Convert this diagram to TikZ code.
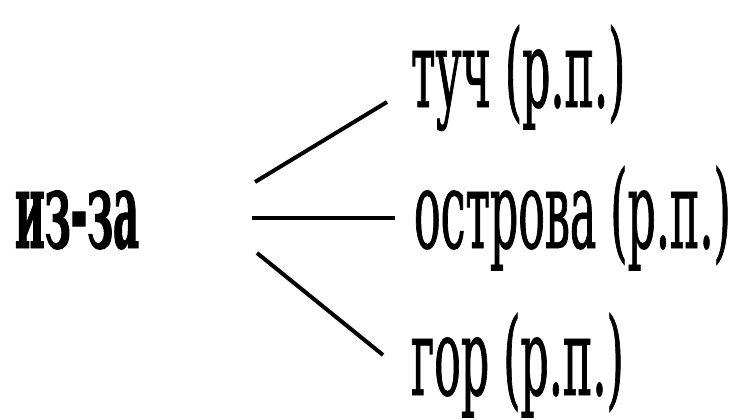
\documentclass[tikz,border=0pt]{standalone}
\usepackage{fontspec}
\setmainfont{DejaVu Serif}
\newfontfamily\narrowserif[FakeStretch=0.41,FakeBold=0.6]{DejaVu Serif}
\newfontfamily\narrowbold[FakeStretch=0.373,BoldFeatures={FakeBold=0.8}]{DejaVu Serif}
\begin{document}
\begin{tikzpicture}[x=1pt,y=-1pt,
  word/.style={anchor=base west,inner sep=0pt,outer sep=0pt,font=\narrowserif\fontsize{108}{130}\selectfont},
  head/.style={anchor=base west,inner sep=0pt,outer sep=0pt,font=\narrowbold\fontsize{108}{130}\selectfont},
  link/.style={line width=4pt}]
\useasboundingbox (0,0) rectangle (737,420);
\node[head] (p) at (15,248) {\bfseries из-за};
\node[word] (a) at (411,107) {туч (р.п.)};
\node[word] (b) at (414,248) {острова (р.п.)};
\node[word] (c) at (411,395) {гор (р.п.)};
\coordinate (s1) at (255,182);
\coordinate (e1) at (387,102);
\coordinate (s2) at (252,218);
\coordinate (e2) at (395,218);
\coordinate (s3) at (257,253);
\coordinate (e3) at (383,355);
\draw[link] (s1) -- (e1);
\draw[link] (s2) -- (e2);
\draw[link] (s3) -- (e3);
\end{tikzpicture}
\end{document}
